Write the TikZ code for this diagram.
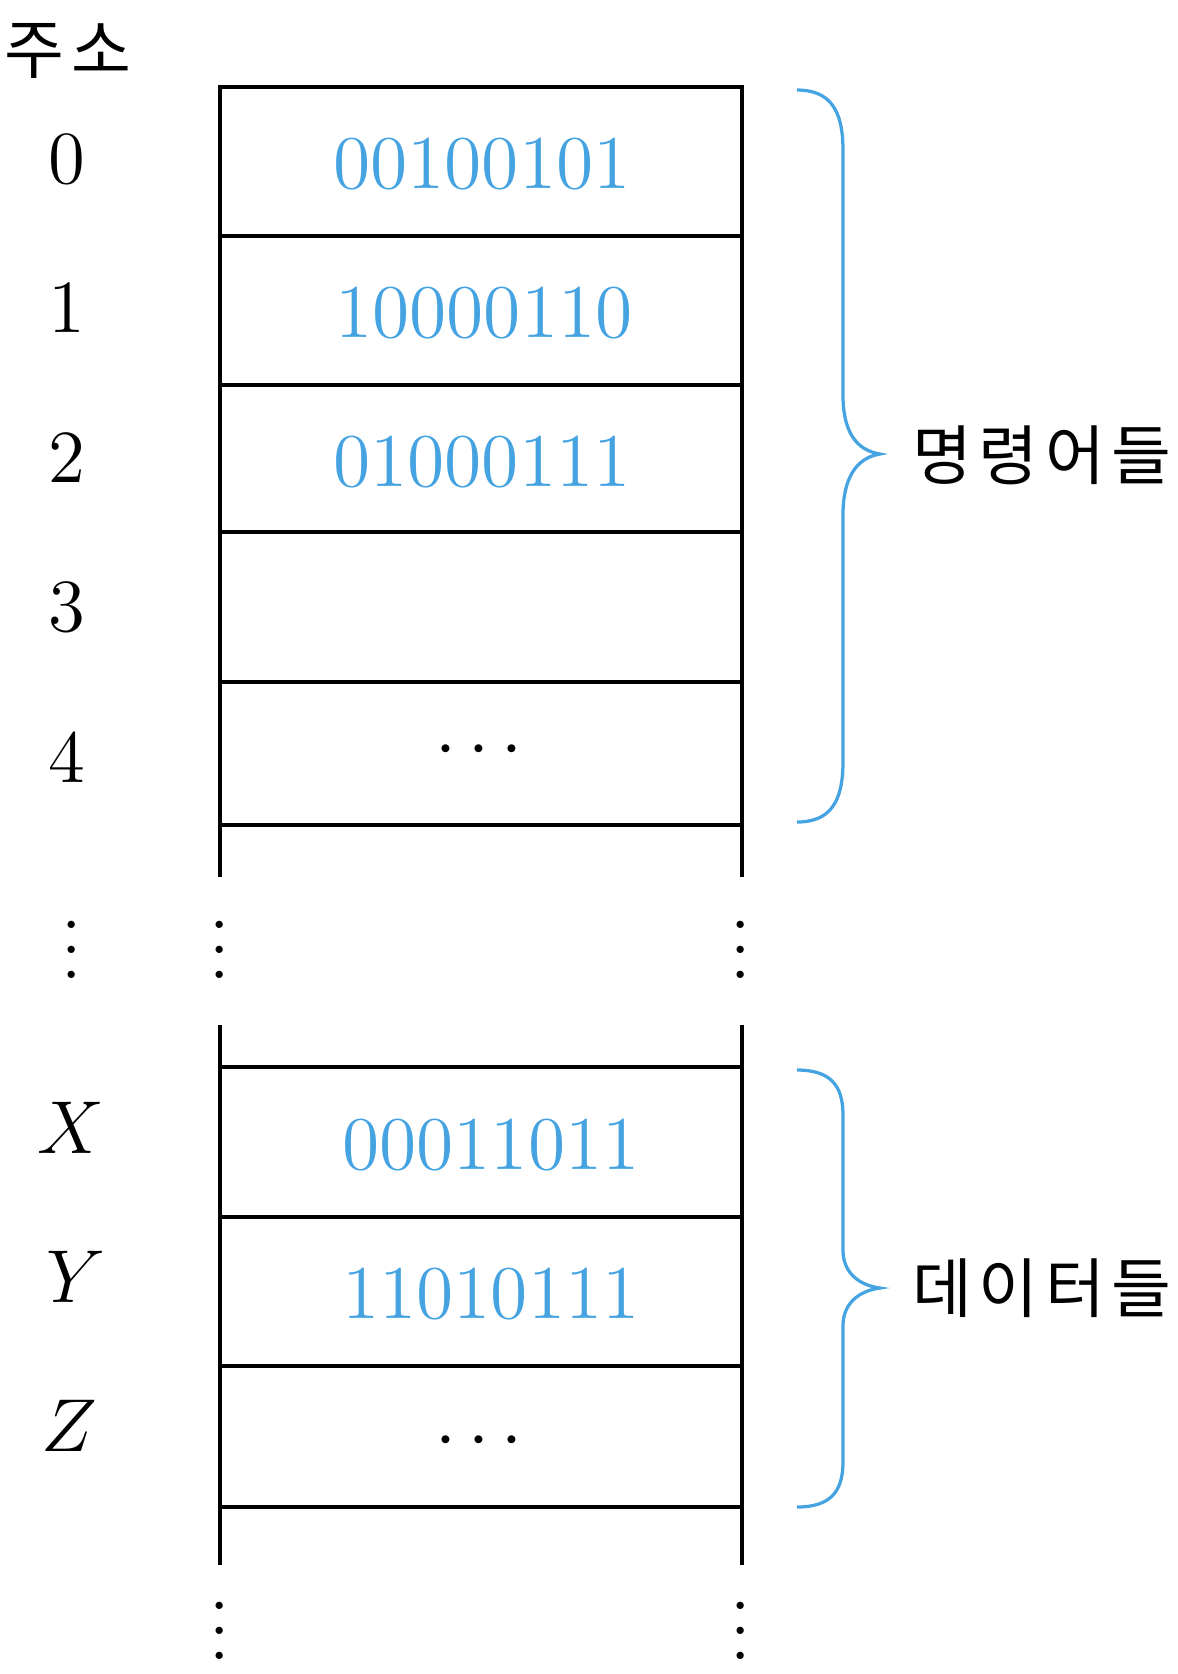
\documentclass[tikz,border=0pt]{standalone}
\usepackage{fontspec}
\newfontfamily\kor[LetterSpace=10]{Noto Sans CJK KR}
\definecolor{valblue}{RGB}{70,163,226}
\tikzset{
  cellline/.style={line width=0.78pt, line join=miter},
  brace/.style={draw=valblue, line width=0.52pt},
  addr/.style={inner sep=0pt, font=\fontsize{12}{14}\selectfont},
  val/.style={inner sep=0pt, text=valblue, font=\fontsize{12.15}{14}\selectfont},
  kortext/.style={inner sep=0pt, font=\kor\fontsize{10.4}{12}\selectfont},
  vdotsnode/.style={inner sep=0pt, anchor=base, font=\fontsize{12}{14}\selectfont}
}
\begin{document}
\begin{tikzpicture}[x=0.16pt, y=-0.16pt]
\useasboundingbox (0,0) rectangle (1178,1674);
% upper block
\draw[cellline] (220,877) -- (220,87) -- (742,87) -- (742,877);
\foreach \yy in {236,385,532,682,825} \draw[cellline] (220,\yy) -- (742,\yy);
% lower block
\draw[cellline] (220,1025) -- (220,1565);
\draw[cellline] (742,1025) -- (742,1565);
\foreach \yy in {1067,1217,1366,1507} \draw[cellline] (220,\yy) -- (742,\yy);
% heading
\node[kortext] (hdr) at (68,51) {주소};
% address labels
\node[addr] (a0) at (67,159) {0};
\node[addr] (a1) at (67,308) {1};
\node[addr] (a2) at (67,458) {2};
\node[addr] (a3) at (67,607) {3};
\node[addr] (a4) at (67,757) {4};
\node[addr] (ax) at (71,1128) {$X$};
\node[addr] (ay) at (76,1277) {$Y$};
\node[addr] (az) at (69,1426) {$Z$};
% values
\node[val] (v0) at (482,164) {00100101};
\node[val] (v1) at (484,313) {10000110};
\node[val] (v2) at (482,462) {01000111};
\node[addr] (v4) at (479,751) {$\cdots$};
\node[val] (vx) at (491,1145) {00011011};
\node[val] (vy) at (491,1294) {11010111};
\node[addr] (vz) at (479,1442) {$\cdots$};
% vertical dots
\node[vdotsnode] (d1) at (72,978) {$\vdots$};
\node[vdotsnode] (d2) at (220,978) {$\vdots$};
\node[vdotsnode] (d3) at (741,978) {$\vdots$};
\node[vdotsnode] (d4) at (220,1659) {$\vdots$};
\node[vdotsnode] (d5) at (741,1659) {$\vdots$};
% braces
\draw[brace] (797,90) .. controls (830,90) and (843,110) .. (843,150)
  -- (843,395) .. controls (843,430) and (855,450) .. (880,454)
  .. controls (855,458) and (843,480) .. (843,515)
  -- (843,762) .. controls (843,802) and (830,822) .. (797,822);
\draw[brace] (797,1070) .. controls (830,1070) and (843,1085) .. (843,1115)
  -- (843,1250) .. controls (843,1272) and (858,1285) .. (880,1288)
  .. controls (858,1291) and (843,1304) .. (843,1326)
  -- (843,1462) .. controls (843,1492) and (830,1507) .. (797,1507);
\node[kortext] (instr) at (1042,455) {명령어들};
\node[kortext] (data) at (1042,1288) {데이터들};
\end{tikzpicture}
\end{document}
